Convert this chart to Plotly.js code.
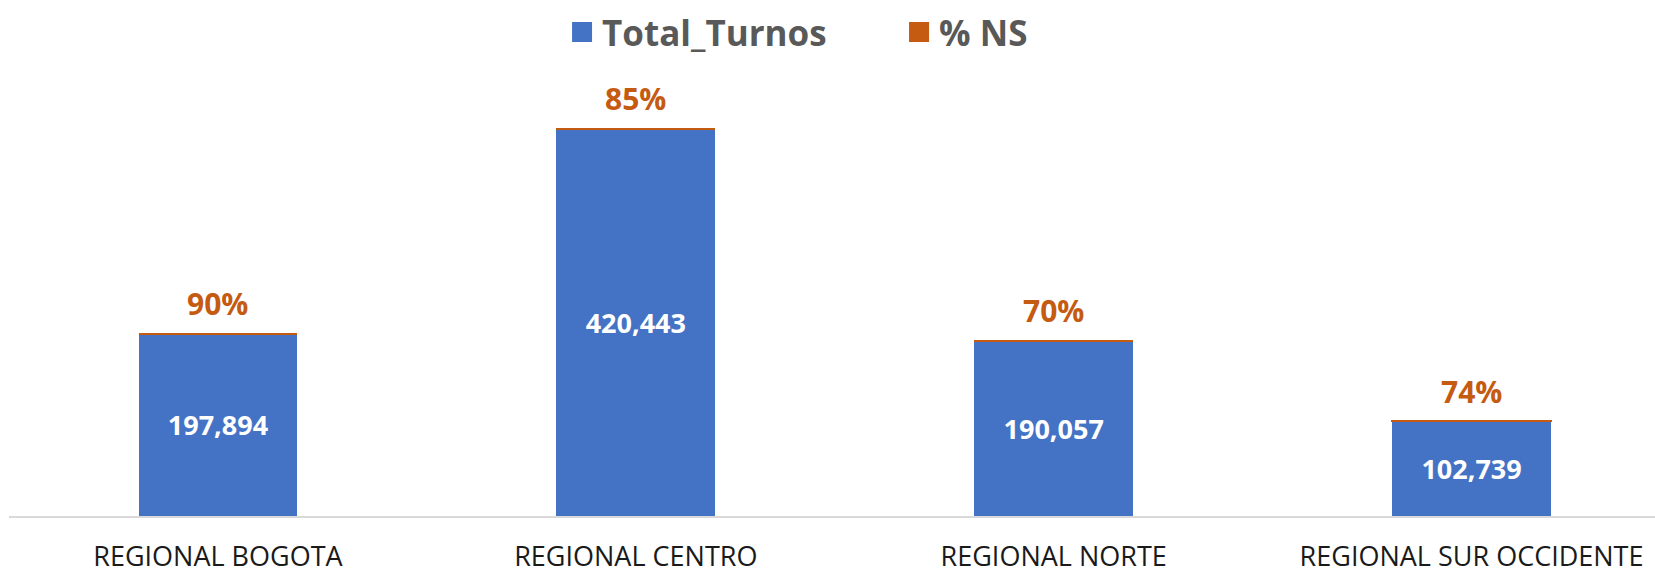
<!DOCTYPE html>
<html>
<head>
<meta charset="utf-8">
<script src="https://cdn.plot.ly/plotly-3.0.1.min.js"></script>
<style>html,body{margin:0;padding:0;background:#fff;}#chart{width:1655px;height:573px;}</style>
</head>
<body>
<div id="chart"></div>
<script>
const categories = ["REGIONAL BOGOTA", "REGIONAL CENTRO", "REGIONAL NORTE", "REGIONAL SUR OCCIDENTE"];
const totalTurnos = [197894, 420443, 190057, 102739];
const pctNS = [0.90, 0.85, 0.70, 0.74];
const seriesNames = ["Total_Turnos", "% NS"];

const BLUE = "#4472C4";
const ORANGE = "#C55A11";
const FONT = "Open Sans, sans-serif";

const fmtInt = v => v.toLocaleString("en-US");
const fmtPct = v => Math.round(v * 100) + "%";

const traces = [
  {
    type: "bar",
    x: categories,
    y: totalTurnos,
    name: seriesNames[0],
    marker: {color: BLUE, line: {width: 0}},
    text: totalTurnos.map(fmtInt),
    textposition: "inside",
    insidetextanchor: "middle",
    textangle: 0,
    constraintext: "none",
    textfont: {family: FONT, size: 27, color: "#ffffff", weight: "bold"},
    showlegend: false,
    hoverinfo: "skip"
  },
  {
    type: "bar",
    x: categories,
    y: pctNS,
    name: seriesNames[1],
    marker: {color: ORANGE, line: {width: 2, color: ORANGE}},
    showlegend: false,
    hoverinfo: "skip"
  },
  {
    type: "scatter", mode: "markers", x: [categories[0]], y: [null],
    name: seriesNames[0],
    marker: {symbol: "square", size: 16, color: BLUE, line: {width: 4, color: BLUE}}
  },
  {
    type: "scatter", mode: "markers", x: [categories[0]], y: [null],
    name: seriesNames[1],
    marker: {symbol: "square", size: 16, color: ORANGE, line: {width: 4, color: ORANGE}}
  }
];

const annotations = categories.map((c, i) => ({
  x: c, y: totalTurnos[i] + pctNS[i],
  xref: "x", yref: "y",
  text: fmtPct(pctNS[i]),
  showarrow: false,
  yanchor: "middle",
  yshift: 30,
  font: {family: FONT, size: 30, color: ORANGE, weight: "bold"}
}));

const layout = {
  width: 1655, height: 573,
  margin: {l: 9, r: 0, t: 60, b: 57, autoexpand: false},
  paper_bgcolor: "#ffffff",
  plot_bgcolor: "#ffffff",
  barmode: "stack",
  bargap: 0.62,
  font: {family: FONT},
  xaxis: {
    type: "category",
    range: [-0.5, 3.439],
    showgrid: false,
    zeroline: false,
    showline: true,
    linecolor: "#D9D9D9",
    linewidth: 2,
    ticks: "",
    ticklabelstandoff: 16,
    tickfont: {family: FONT, size: 27, color: "#1a1a1a"},
    fixedrange: true
  },
  yaxis: {
    range: [0, 495000],
    visible: false,
    showgrid: false,
    zeroline: false,
    fixedrange: true
  },
  showlegend: true,
  legend: {
    orientation: "h",
    traceorder: "normal",
    x: 0.336, xanchor: "left",
    y: 1.061, yanchor: "middle",
    font: {family: FONT, size: 35, color: "#595959", weight: "bold"},
    entrywidth: 292,
    entrywidthmode: "pixels",
    itemclick: false, itemdoubleclick: false
  },
  annotations: annotations
};

Plotly.newPlot("chart", traces, layout, {displayModeBar: false, staticPlot: true});
</script>
</body>
</html>
